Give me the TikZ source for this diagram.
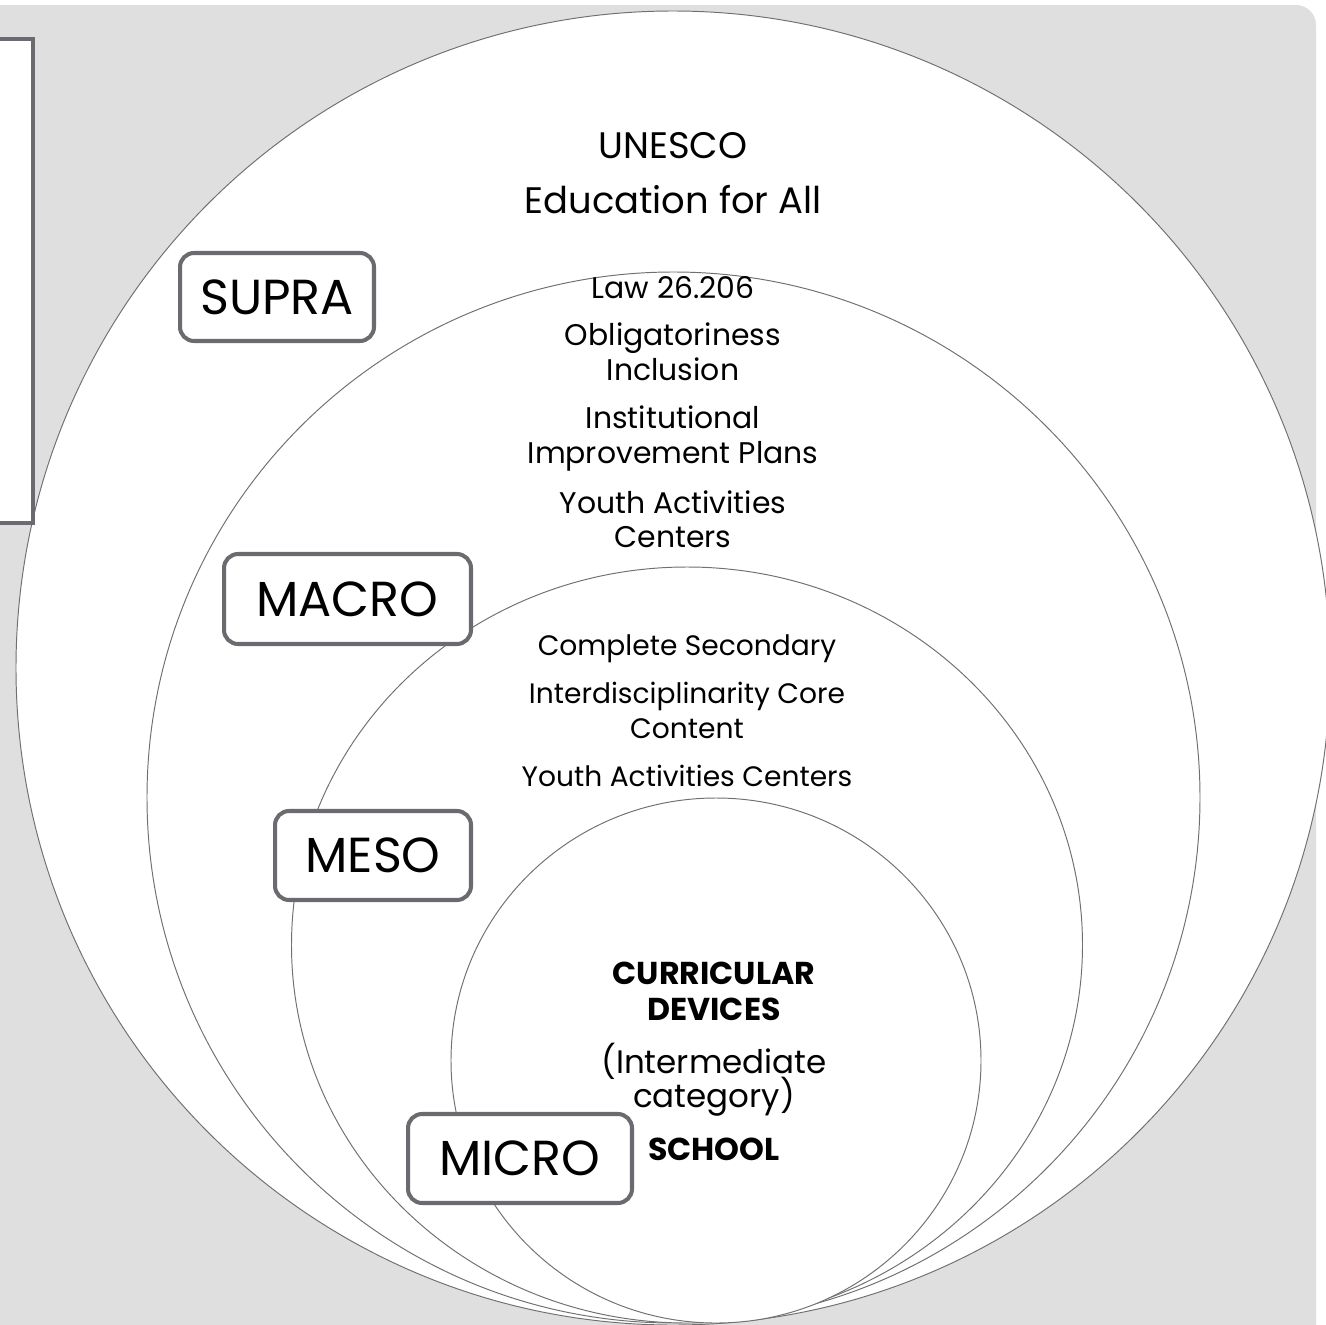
\documentclass[tikz,border=0pt]{standalone}
\usepackage{fontspec}
\setmainfont{Poppins}
\usetikzlibrary{positioning}
\definecolor{panelgray}{HTML}{DFDFDF}
\definecolor{ringgray}{HTML}{707070}
\definecolor{boxgray}{HTML}{6B6B6F}
\tikzset{level box/.style={draw=boxgray,line width=2.3pt,rounded corners=8pt,fill=white,inner sep=0pt,font=\fontsize{28}{28}\selectfont},
ring/.style={draw=ringgray,line width=0.55pt,fill=white},
top text/.style={inner sep=0pt,text height=16pt,text depth=5pt,font=\fontsize{21}{21}\selectfont},
ring text/.style={inner sep=0pt,text height=12pt,text depth=4pt,font=\fontsize{17}{17}\selectfont},
core text/.style={inner sep=0pt,text height=13pt,text depth=4.5pt,font=\fontsize{18.5}{18.5}\selectfont},
}

\begin{document}
\begin{tikzpicture}[x=0.02cm,y=-0.02cm]
\useasboundingbox (0,0) rectangle (1326,1325);
\fill[white] (0,0) rectangle (1326,1325);
\fill[panelgray,rounded corners=0.4cm] (-30,5) rectangle (1316,1360);

% nested rings
\draw[ring] (673,668) circle [radius=657];
\draw[ring] (673.5,797.5) ellipse [x radius=526.5,y radius=525.5];
\draw[ring] (687,945) ellipse [x radius=395.5,y radius=378];
\draw[ring] (716,1060.5) ellipse [x radius=265,y radius=262.5];

\draw[draw=boxgray,line width=2pt,fill=white] (-20,39) rectangle (33,523);

% supra
\node[top text,anchor=base] (unesco) at (673,158) {UNESCO};
\node[top text] (efa) [below=10.2pt of unesco] {Education for All};

% macro
\node[ring text,anchor=base] (law) at (673,298) {Law 26.206};
\node[ring text] (oblig) [below=10.6pt of law] {Obligatoriness};
\node[ring text] (incl) [below=3.6pt of oblig] {Inclusion};
\node[ring text] (inst) [below=11pt of incl] {Institutional};
\node[ring text] (impr) [below=3.2pt of inst] {Improvement Plans};
\node[ring text] (youth) [below=12pt of impr] {Youth Activities};
\node[ring text] (cent) [below=3pt of youth] {Centers};

% meso
\node[ring text,anchor=base,font=\fontsize{16}{16}\selectfont] (compl) at (687,655) {Complete Secondary};
\node[ring text,font=\fontsize{16}{16}\selectfont] (inter) [below=11pt of compl] {Interdisciplinarity Core};
\node[ring text,font=\fontsize{16}{16}\selectfont] (cont) [below=3.6pt of inter] {Content};
\node[ring text,font=\fontsize{16}{16}\selectfont] (yac) [below=11pt of cont] {Youth Activities Centers};

% micro
\node[core text,anchor=base,font=\fontsize{18}{18}\bfseries] (curr) at (714,984) {CURRICULAR};
\node[core text,font=\fontsize{18}{18}\bfseries] (dev) [below=3pt of curr] {DEVICES};
\node[core text] (interm) [below=12.3pt of dev] {(Intermediate};
\node[core text] (categ) [below=1.5pt of interm] {category)};
\node[core text,font=\fontsize{18}{18}\bfseries] (school) [below=12pt of categ] {SCHOOL};

% level labels
\node[level box,minimum width=3.88cm,minimum height=1.76cm] (supra) at (277,297) {SUPRA};
\node[level box,minimum width=4.94cm,minimum height=1.8cm] (macro) at (347.5,599) {MACRO};
\node[level box,minimum width=3.92cm,minimum height=1.78cm] (meso) at (373,855.5) {MESO};
\node[level box,minimum width=4.48cm,minimum height=1.78cm] (micro) at (520,1158.5) {MICRO};
\end{tikzpicture}
\end{document}
